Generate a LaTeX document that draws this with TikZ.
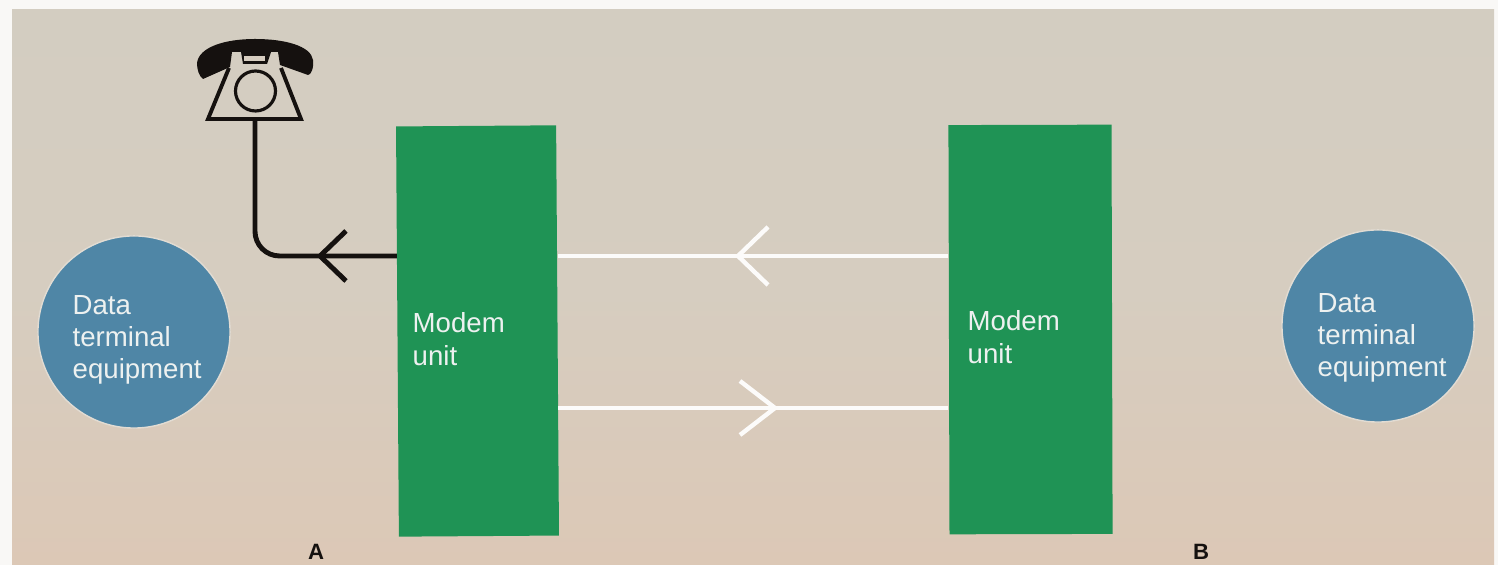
\documentclass[tikz,border=0pt]{standalone}
\usepackage{xcolor}
\usepackage{fontspec}
\setmainfont{Liberation Sans}
\definecolor{paper}{HTML}{D6CDC0}
\definecolor{papertop}{HTML}{D3CDC1}
\definecolor{paperlow}{HTML}{DCC8B6}
\definecolor{modemgreen}{HTML}{1F9355}
\definecolor{termblue}{HTML}{4F86A6}
\definecolor{textwhite}{HTML}{EDF1F0}
\definecolor{phoneblack}{HTML}{15110F}
\tikzset{
  modem/.style={fill=modemgreen,inner sep=0pt},
  terminal/.style={circle,fill=termblue,draw=paper!70!white,line width=.4pt,inner sep=0pt,minimum size=1.92cm},
  boxtext/.style={anchor=west,inner sep=0pt,align=left,text=textwhite,font=\fontsize{7.85}{9.2}\selectfont},
  site/.style={font=\fontsize{6.3}{7}\selectfont\bfseries,text=phoneblack,inner sep=0pt},
  blackwire/.style={line width=1.4pt,color=phoneblack},
  whitewire/.style={line width=1.25pt,color=white!92!paper}
}
\begin{document}
\begin{tikzpicture}[x=.01cm,y=-.01cm]
\useasboundingbox (0,0) rectangle (1498,565);
\fill[white!85!paper] (0,0) rectangle (1498,565);
\shade[top color=papertop,bottom color=paperlow,middle color=paper] (12,10) rectangle (1494,565);
% the two stations
\node[modem,minimum width=1.6cm,minimum height=4.1cm,rotate=.4] (modemA) at (477.5,331) {};
\node[modem,minimum width=1.63cm,minimum height=4.09cm,rotate=.15] (modemB) at (1030.5,329.5) {};
\node[boxtext] (textA) at (412,339) {Modem\\unit};
\node[boxtext] (textB) at (967,337) {Modem\\unit};
\node[terminal] (termA) at (134,332) {};
\node[terminal] (termB) at (1378,326) {};
\node[boxtext] (dataA) at (72,340) {Data\\terminal\\equipment};
\node[boxtext] (dataB) at (1317,338) {Data\\terminal\\equipment};
\node[site] (siteA) at (316,552) {A};
\node[site] (siteB) at (1201,552) {B};
% telephone
\coordinate (phone) at (255,119);
\fill[phoneblack] (197,63) .. controls (199,47) and (225,39) .. (255,39)
  .. controls (285,39) and (311,46) .. (313,60) .. controls (314,68) and (311,75) .. (308,75)
  -- (280,65) -- (278,52) -- (232,52) -- (230,67)
  -- (203,79) .. controls (199,76) and (197,70) .. (197,63) -- cycle;
\draw[line width=1.1pt,color=phoneblack,line join=miter] (229,68) -- (208,119) -- (301,119) -- (281,68);
\draw[line width=.9pt,color=phoneblack] (255.5,91) circle (20);
\fill[phoneblack] (241,52) -- (271,52) -- (267,64) -- (243,64) -- cycle;
\fill[paper] (244,56) rectangle (265,61);
% lines between the stations
\coordinate (upper) at (750,256);
\coordinate (lower) at (750,408);
\draw[whitewire] (modemB.west |- upper) -- (modemA.east |- upper);
\draw[whitewire] (modemA.east |- lower) -- (modemB.west |- lower);
\draw[blackwire,rounded corners=7pt] (modemA.west |- upper) -- (phone |- upper) -- (phone);
% arrow heads in the lines
\coordinate (tipup) at (738,256);
\coordinate (tiplow) at (775,408);
\coordinate (tipphone) at (320,256);
\foreach \s in {-1,1} {
  \draw[whitewire] (tipup) -- ++(30,29*\s);
  \draw[whitewire] (tiplow) -- ++(-35,27*\s);
  \draw[blackwire] (tipphone) -- ++(26,25*\s);
}
\end{tikzpicture}
\end{document}
